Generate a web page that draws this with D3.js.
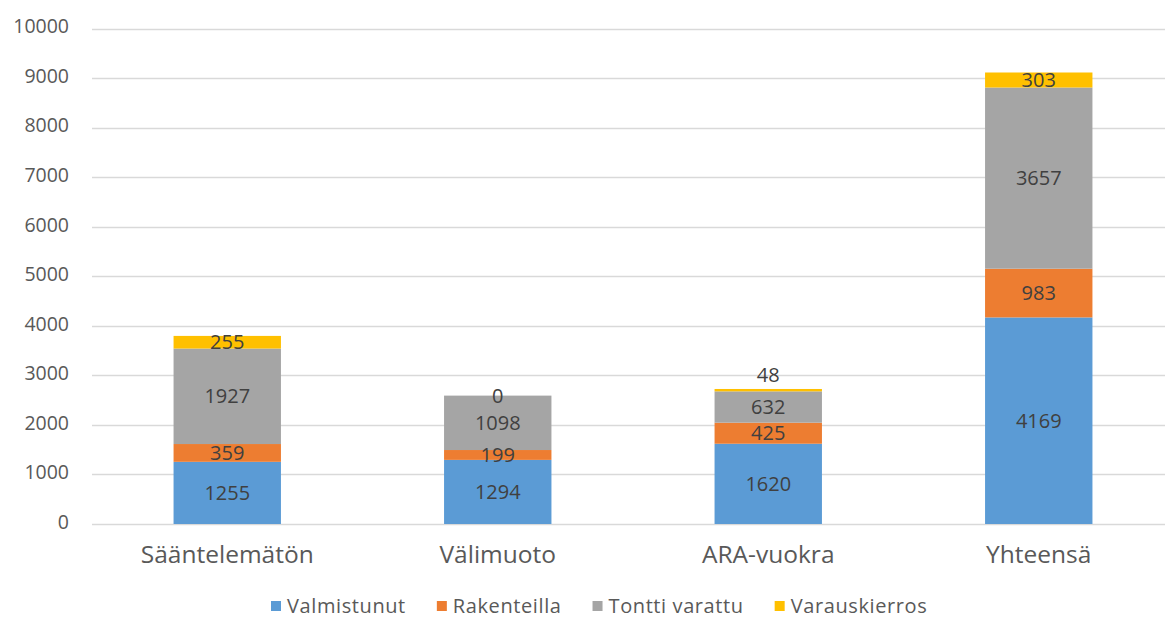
<!DOCTYPE html>
<html>
<head>
<meta charset="utf-8">
<script src="https://cdn.jsdelivr.net/npm/d3@7"></script>
<style>
  body { margin: 0; background: #fff; }
  svg { display: block; font-family: "Open Sans", "Liberation Sans", sans-serif; }
</style>
</head>
<body>
<div id="chart"></div>
<script>
var categories = ["Sääntelemätön", "Välimuoto", "ARA-vuokra", "Yhteensä"];
var seriesNames = ["Valmistunut", "Rakenteilla", "Tontti varattu", "Varauskierros"];
var valmistunut = [1255, 1294, 1620, 4169];
var rakenteilla = [359, 199, 425, 983];
var tonttiVarattu = [1927, 1098, 632, 3657];
var varauskierros = [255, 0, 48, 303];
var yTicks = [0, 1000, 2000, 3000, 4000, 5000, 6000, 7000, 8000, 9000, 10000];
var colors = ["#5b9bd5", "#ed7d31", "#a5a5a5", "#ffc000"];

var width = 1165, height = 619;
var svg = d3.select("#chart").append("svg")
    .attr("width", width).attr("height", height);

var x = d3.scaleBand().domain(categories).range([92, 1174]).padding(0);
var y = d3.scaleLinear().domain([0, 10000]).range([524, 28.5]);
var barW = x.bandwidth() * 0.397;

var rows = categories.map(function(c, i) {
    return { cat: c, Valmistunut: valmistunut[i], Rakenteilla: rakenteilla[i],
             "Tontti varattu": tonttiVarattu[i], Varauskierros: varauskierros[i] };
});
var stack = d3.stack().keys(seriesNames)(rows);

// gridlines
svg.append("g").selectAll("line").data(yTicks).enter().append("line")
    .attr("x1", 92).attr("x2", width)
    .attr("y1", function(d) { return Math.round(y(d)) + 0.5; })
    .attr("y2", function(d) { return Math.round(y(d)) + 0.5; })
    .attr("stroke", "#d9d9d9").attr("stroke-width", 1.5);

// y axis labels
svg.append("g").selectAll("text").data(yTicks).enter().append("text")
    .attr("x", 69).attr("y", function(d) { return y(d) - 2; })
    .attr("dy", "0.35em").attr("text-anchor", "end")
    .attr("font-size", 19.5).attr("fill", "#595959")
    .text(function(d) { return d; });

// bars
var layers = svg.append("g").selectAll("g").data(stack).enter().append("g")
    .attr("fill", function(d, i) { return colors[i]; });
layers.selectAll("rect").data(function(d) { return d; }).enter().append("rect")
    .attr("x", function(d) { return x(d.data.cat) + (x.bandwidth() - barW) / 2; })
    .attr("width", barW)
    .attr("y", function(d) { return y(d[1]); })
    .attr("height", function(d) { return y(d[0]) - y(d[1]); });

// data labels
stack.forEach(function(layer) {
    svg.append("g").selectAll("text").data(layer).enter().append("text")
        .attr("x", function(d) { return x(d.data.cat) + x.bandwidth() / 2; })
        .attr("y", function(d) {
            var v = d[1] - d[0];
            var cy = (y(d[0]) + y(d[1])) / 2;
            if (v > 0 && y(d[0]) - y(d[1]) < 6) cy -= 15;
            return cy;
        })
        .attr("dy", "0.35em").attr("text-anchor", "middle")
        .attr("font-size", 20).attr("fill", "#404040")
        .text(function(d) { return d[1] - d[0]; });
});

// category labels
svg.append("g").selectAll("text").data(categories).enter().append("text")
    .attr("x", function(d) { return x(d) + x.bandwidth() / 2; })
    .attr("y", 554).attr("dy", "0.35em").attr("text-anchor", "middle")
    .attr("font-size", 24.5).attr("fill", "#595959")
    .text(function(d) { return d; });

// legend, laid out left to right
var legend = svg.append("g");
var lx = 271;
seriesNames.forEach(function(name, i) {
    legend.append("rect").attr("x", lx).attr("y", 601).attr("width", 10).attr("height", 10)
        .attr("fill", colors[i]);
    var t = legend.append("text").attr("x", lx + 16).attr("y", 606).attr("dy", "0.35em")
        .attr("font-size", 20).attr("letter-spacing", 0.6).attr("fill", "#595959")
        .text(name);
    lx += 16 + t.node().getComputedTextLength() + 31;
});
</script>
</body>
</html>
